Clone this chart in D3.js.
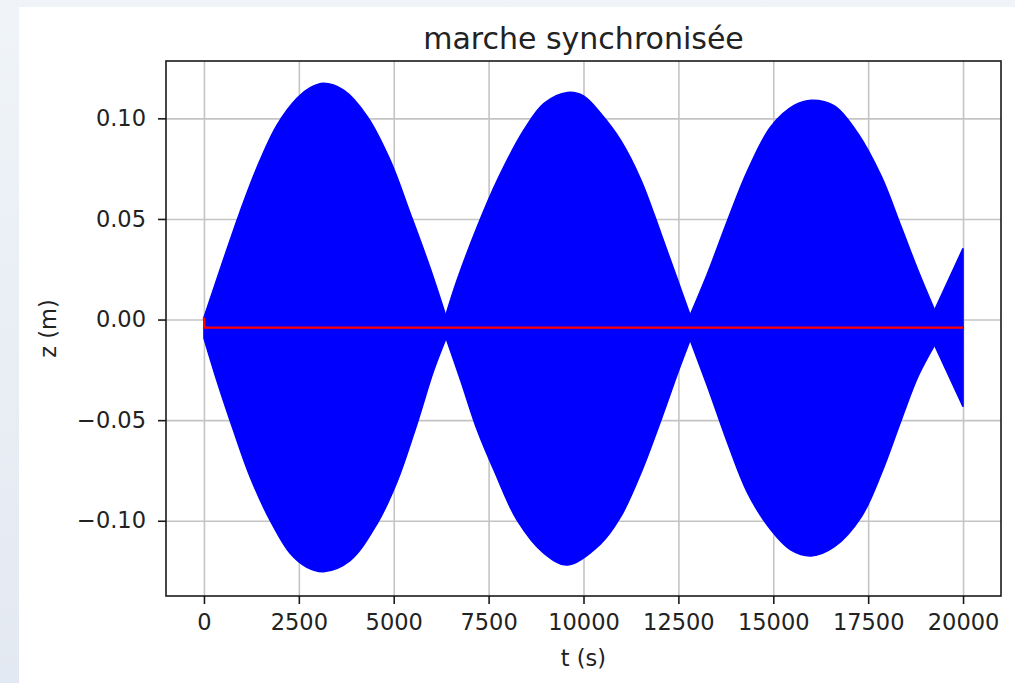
<!DOCTYPE html>
<html>
<head>
<meta charset="utf-8">
<script src="https://cdn.jsdelivr.net/npm/d3@7"></script>
<style>
  body { margin: 0; }
  text { font-family: "DejaVu Sans", sans-serif; fill: #222; }
</style>
</head>
<body>
<script>
// enveloppe haute du signal z(t)
var tHaut = [0, 510, 950, 1390, 1920, 2450, 2800, 3150, 3680, 4300, 4910, 5440, 5970, 6370,
    6670, 7200, 7730, 8430, 8960, 9580, 10000, 10450, 10980, 11510, 12040, 12480, 12810,
    13270, 13800, 14330, 14940, 15560, 16000, 16610, 17230, 17850, 18370, 18810, 19250, 20000];
var zHaut = [0.001, 0.0296, 0.0535, 0.0752, 0.0965, 0.11, 0.1152, 0.1174, 0.114, 0.101, 0.079, 0.0525, 0.025, 0.002,
    0.0196, 0.0461, 0.0693, 0.0942, 0.1075, 0.1129, 0.1112, 0.1025, 0.089, 0.0695, 0.0428, 0.0196, 0.0022,
    0.023, 0.0495, 0.0743, 0.096, 0.1065, 0.109, 0.1062, 0.0925, 0.071, 0.0461, 0.0246, 0.0047, 0.0354];

// enveloppe basse
var tBas = [0, 335, 775, 1215, 1740, 2270, 2700, 3150, 3850, 4560, 5090, 5610, 6050, 6380,
    6760, 7200, 7640, 8250, 8960, 9580, 10450, 10980, 11510, 12040, 12480, 12810,
    13270, 13800, 14330, 14940, 15470, 16000, 16610, 17320, 17850, 18370, 18810, 19250, 20000];
var zBas = [-0.0093, -0.030, -0.0549, -0.0781, -0.0997, -0.1162, -0.123, -0.1253, -0.1198, -0.1015, -0.0805, -0.052, -0.0255, -0.0093,
    -0.030, -0.0549, -0.0748, -0.0997, -0.1162, -0.122, -0.1115, -0.098, -0.0764, -0.05, -0.0267, -0.0102,
    -0.0334, -0.0615, -0.0864, -0.1046, -0.1146, -0.1175, -0.1129, -0.098, -0.0764, -0.05, -0.0284, -0.0127, -0.0433];

// valeur moyenne (ligne rouge)
var tMoyenne = [0, 15, 20000];
var zMoyenne = [0.001, -0.004, -0.004];

var ticksX = [0, 2500, 5000, 7500, 10000, 12500, 15000, 17500, 20000];
var ticksY = [-0.10, -0.05, 0.00, 0.05, 0.10];

var width = 1015;
var height = 683;

var marge = {
    gauche: 166,
    droite: 1001,
    haut: 61,
    bas: 596
}

var escalaX = d3.scaleLinear()
    .domain([-1000, 21000])
    .range([marge.gauche, marge.droite])

var escalaY = d3.scaleLinear()
    .domain([-0.1374, 0.1285])
    .range([marge.bas, marge.haut])

var svg = d3.select("body")
    .append("svg")
    .attr("width", width)
    .attr("height", height)

// fond de la page
var grad = svg.append("defs").append("linearGradient")
    .attr("id", "fond").attr("x1", 0).attr("y1", 0).attr("x2", 0).attr("y2", 1)
grad.append("stop").attr("offset", "0%").attr("stop-color", "#f0f4f8")
grad.append("stop").attr("offset", "100%").attr("stop-color", "#e3e9f2")
svg.append("rect").attr("width", width).attr("height", height).attr("fill", "url(#fond)")
svg.append("rect").attr("x", 19).attr("y", 7)
    .attr("width", width - 19).attr("height", height - 7).attr("fill", "white")

// grille
svg.append("g")
    .attr("transform", "translate(0," + marge.bas + ")")
    .call(d3.axisBottom(escalaX).tickValues(ticksX).tickSize(-(marge.bas - marge.haut)).tickFormat(""))
    .call(g => g.select(".domain").remove())
    .selectAll("line").attr("stroke", "#c4c4c4").attr("stroke-width", 1.6)

svg.append("g")
    .attr("transform", "translate(" + marge.gauche + ",0)")
    .call(d3.axisLeft(escalaY).tickValues(ticksY).tickSize(-(marge.droite - marge.gauche)).tickFormat(""))
    .call(g => g.select(".domain").remove())
    .selectAll("line").attr("stroke", "#c4c4c4").attr("stroke-width", 1.6)

// découpe une enveloppe en lobes entre les noeuds (pour garder les pointes)
function lobes(ts, zs, haut) {
    var res = [];
    var courant = [];
    for (var i = 0; i < ts.length; i++) {
        courant.push([ts[i], zs[i]]);
        var noeud = i > 0 && i < ts.length - 1 &&
            (haut ? (zs[i] < zs[i - 1] && zs[i] < zs[i + 1]) : (zs[i] > zs[i - 1] && zs[i] > zs[i + 1]));
        if (noeud) {
            res.push(courant);
            courant = [[ts[i], zs[i]]];
        }
    }
    res.push(courant);
    return res;
}

var base = zMoyenne[zMoyenne.length - 1];

var aire = d3.area()
    .x(d => escalaX(d[0]))
    .y0(escalaY(base))
    .y1(d => escalaY(d[1]))
    .curve(d3.curveCatmullRom.alpha(0.5))

var gSignal = svg.append("g")

gSignal.selectAll("path.haut")
    .data(lobes(tHaut, zHaut, true))
    .join("path")
    .attr("class", "haut")
    .attr("d", aire)

gSignal.selectAll("path.bas")
    .data(lobes(tBas, zBas, false))
    .join("path")
    .attr("class", "bas")
    .attr("d", aire)

gSignal.selectAll("path")
    .attr("fill", "#0000ff")
    .attr("stroke", "#0000ff")
    .attr("stroke-width", 1.5)
    .attr("stroke-linejoin", "miter")

var ligne = d3.line()
    .x(d => escalaX(d[0]))
    .y(d => escalaY(d[1]))

svg.append("path")
    .attr("d", ligne(tMoyenne.map((t, i) => [t, zMoyenne[i]])))
    .attr("fill", "none")
    .attr("stroke", "#ff0000")
    .attr("stroke-width", 2.4)

// cadre
svg.append("rect")
    .attr("x", marge.gauche).attr("y", marge.haut)
    .attr("width", marge.droite - marge.gauche).attr("height", marge.bas - marge.haut)
    .attr("fill", "none").attr("stroke", "#1a1a1a").attr("stroke-width", 1.6)

// axes
var gX = svg.append("g")
    .attr("transform", "translate(0," + marge.bas + ")")
    .call(d3.axisBottom(escalaX).tickValues(ticksX).tickSize(8).tickPadding(10).tickFormat(d3.format("d")))
gX.select(".domain").remove()

var gY = svg.append("g")
    .attr("transform", "translate(" + marge.gauche + ",0)")
    .call(d3.axisLeft(escalaY).tickValues(ticksY).tickSize(8).tickPadding(12).tickFormat(d3.format(".2f")))
gY.select(".domain").remove()

gX.selectAll(".tick line").attr("stroke", "#1a1a1a").attr("stroke-width", 1.6)
gY.selectAll(".tick line").attr("stroke", "#1a1a1a").attr("stroke-width", 1.6)
svg.selectAll(".tick text")
    .attr("font-family", "DejaVu Sans")
    .attr("font-size", 22.5)
    .attr("fill", "#222")

// titre et étiquettes
svg.append("text")
    .attr("x", (marge.gauche + marge.droite) / 2)
    .attr("y", 49)
    .attr("text-anchor", "middle")
    .style("font-size", "30px")
    .text("marche synchronisée")

svg.append("text")
    .attr("x", (marge.gauche + marge.droite) / 2)
    .attr("y", 666)
    .attr("text-anchor", "middle")
    .style("font-size", "22.5px")
    .text("t (s)")

svg.append("text")
    .attr("transform", "translate(56," + (marge.haut + marge.bas) / 2 + ") rotate(-90)")
    .attr("text-anchor", "middle")
    .style("font-size", "22.5px")
    .text("z (m)")
</script>
</body>
</html>
